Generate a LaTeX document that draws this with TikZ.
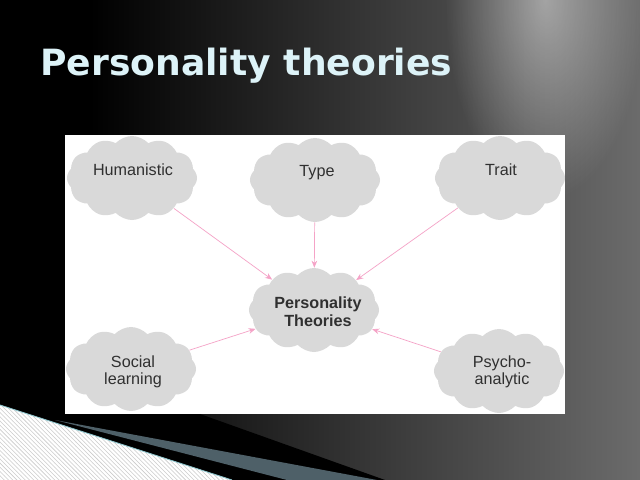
\documentclass[tikz,border=0pt]{standalone}
\usepackage{fontspec}
\setmainfont{Liberation Sans}
\newfontfamily\titlefont{DejaVu Sans}
\usepackage{tikz}
\usetikzlibrary{shapes.symbols, arrows.meta, fadings, patterns}
\definecolor{cloud-gray}{HTML}{D9D9D9}
\definecolor{text-gray}{HTML}{303030}
\definecolor{arrow-pink}{HTML}{F5A3C7}
\definecolor{title-blue}{HTML}{DDF3F8}
\definecolor{slate}{HTML}{4E6068}
\definecolor{edge-teal}{HTML}{8CC4CC}
\tikzfading[name=glow, inner color=transparent!0, outer color=transparent!100]

\begin{document}
\begin{tikzpicture}[x=0.025cm, y=-0.025cm,
	puff/.style={cloud, cloud puffs=12, cloud puff arc=95, aspect=1.7, fill=cloud-gray, minimum width=3.25cm, minimum height=2.1cm, inner sep=0pt},
	lbl/.style={text=text-gray, font=\fontsize{11.5}{12.5}\selectfont, align=center},
	link/.style={arrow-pink, line width=0.5pt, -{Stealth[length=5pt, width=4pt]}}]
					\useasboundingbox (0,0) rectangle (640,480);
					\clip (0,0) rectangle (640,480);
					% slide background
					\fill[black] (0,0) rectangle (640,480);
					\shade[left color=black, right color=black!58] (90,0) rectangle (640,480);
					\fill[black] (0,0) rectangle (90,480);
					\fill[white, opacity=0.45, path fading=glow] (545,0) ellipse (100 and 200);
					
					% bottom left corner
					\fill[black] (0,396) -- (200,414) -- (385,480) -- (0,480) -- cycle;
					\fill[slate] (55,420) -- (377,480) -- (287,480) -- cycle;
					\fill[white] (0,405) -- (232,480) -- (0,480) -- cycle;
					\fill[pattern=north west lines, pattern color=gray!40] (0,405) -- (232,480) -- (0,480) -- cycle;
					\draw[edge-teal, line width=0.6pt] (0,405) -- (232,480);
					
					\node[anchor=base west, text=title-blue, font=\titlefont\bfseries\fontsize{25.7}{30}\selectfont, inner sep=0pt] at (40,75) (title) {Personality theories};
					
					% diagram
					\fill[white] (65,135) rectangle (565,414);
					
					\node[puff] at (132,178) (humanistic) {};
					\node[puff] at (315,180) (type) {};
					\node[puff] at (500,178) (trait) {};
					\node[puff] at (314,310) (theories) {};
					\node[puff] at (131,369) (social) {};
					\node[puff] at (499,371) (psycho) {};
					
					\node[lbl] at (133,170) (humanistic-text) {Humanistic};
					\node[lbl] at (317,173) (type-text) {Type};
					\node[lbl] at (501,170) (trait-text) {Trait};
					\node[lbl, font=\bfseries\fontsize{11.5}{12.5}\selectfont] at (318,312) (theories-text) {Personality\\Theories};
					\node[lbl] at (133,372) (social-text) {Social\\learning};
					\node[lbl] at (502,372) (psycho-text) {Psycho-\\analytic};
					
					\draw[link] (humanistic) -- (theories);
					\draw[link] (type) -- (theories);
					\draw[link] (trait) -- (theories);
					\draw[link] (social) -- (theories);
					\draw[link] (psycho) -- (theories);
\end{tikzpicture}
\end{document}
